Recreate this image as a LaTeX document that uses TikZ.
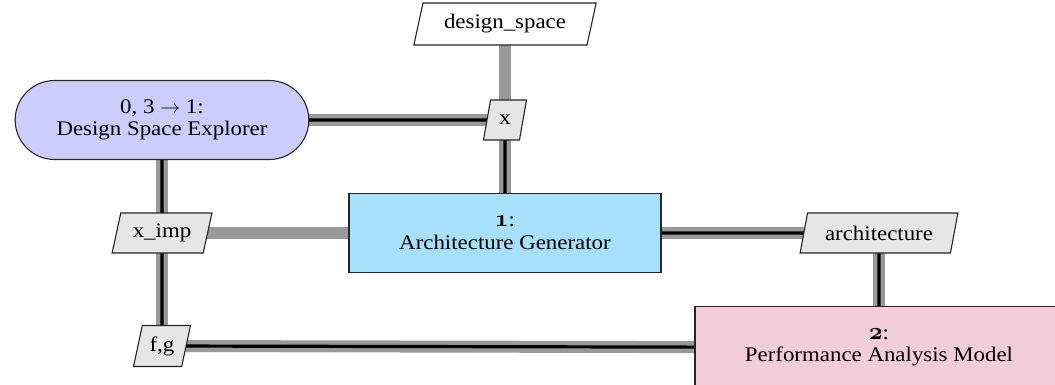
\documentclass[tikz,border=0pt]{standalone}
\usepackage{fontspec}
\setmainfont[FakeStretch=1.1]{Liberation Serif}
\usetikzlibrary{shapes.geometric,shapes.misc}

\pgfdeclarelayer{datalayer}
\pgfdeclarelayer{processlayer}
\pgfsetlayers{datalayer,processlayer,main}

% old-style figures for the step numbers
\newcommand{\osnum}[1]{{\fontencoding{OML}\fontfamily{cmm}\fontseries{b}\fontshape{it}\fontsize{12}{11.3}\selectfont #1}}

\definecolor{optcolor}{HTML}{CCCCFF}
\definecolor{funccolor}{HTML}{A6E0FA}
\definecolor{modelcolor}{HTML}{F2CCD9}
\definecolor{datacolor}{HTML}{E6E6E6}

\begin{document}
\begin{tikzpicture}[x=0.5pt,y=-0.5pt,
  box/.style={font=\fontsize{10.4}{11.3}\selectfont, draw=black!85, line width=0.55pt, align=center},
  optimizer/.style={box, rounded rectangle, fill=optcolor, minimum width=153.5pt, minimum height=39.5pt},
  component/.style={box, rectangle, fill=funccolor, minimum width=156pt, minimum height=39.5pt},
  model/.style={box, rectangle, fill=modelcolor, minimum width=184pt, minimum height=41pt},
  datanode/.style={box, trapezium, trapezium left angle=75, trapezium right angle=105,
    trapezium stretches=true, fill=datacolor, inner sep=2pt, minimum height=20pt},
  inputnode/.style={datanode, fill=white},
  dataline/.style={draw=black!40, line width=6pt},
  processline/.style={draw=black, line width=1.6pt, line join=miter},
]
\useasboundingbox (0,0) rectangle (1055,385);

% components and data blocks
\node[inputnode, minimum width=91.5pt, minimum height=21pt] (dspace) at (505,24) {design\_space};
\node[optimizer] (expl) at (162,120) {0, 3 $\rightarrow$ 1:\\Design Space Explorer};
\node[datanode, minimum width=21.5pt] (xin) at (505,120) {x};
\node[datanode, minimum width=50pt] (ximp) at (162,233) {x\_imp};
\node[component] (archgen) at (505,233) {\osnum{1}:\\Architecture Generator};
\node[datanode, minimum width=79pt] (arch) at (879,233) {architecture};
\node[datanode, minimum width=28.5pt, minimum height=20.5pt] (fg) at (162,346) {f,g};
\node[model] (perf) at (879,347.5) {\osnum{2}:\\Performance Analysis Model};

% data connections
\begin{pgfonlayer}{datalayer}
  \draw[dataline] (dspace.center) -- (xin.center);
  \draw[dataline] (expl.center) -- (xin.center);
  \draw[dataline] (xin.center) -- (archgen.center);
  \draw[dataline] (ximp.center) -- (archgen.center);
  \draw[dataline] (archgen.center) -- (arch.center);
  \draw[dataline] (arch.center) -- (perf.center);
  \draw[dataline] (perf.center) -- (fg.center);
  \draw[dataline] (fg.center) -- (ximp.center);
  \draw[dataline] (ximp.center) -- (expl.center);
\end{pgfonlayer}

% process loop
\begin{pgfonlayer}{processlayer}
  \draw[processline] (expl.center) -- (xin.center) -- (archgen.center) -- (arch.center)
    -- (perf.center) -- (fg.center) -- (ximp.center) -- cycle;
\end{pgfonlayer}
\end{tikzpicture}
\end{document}
